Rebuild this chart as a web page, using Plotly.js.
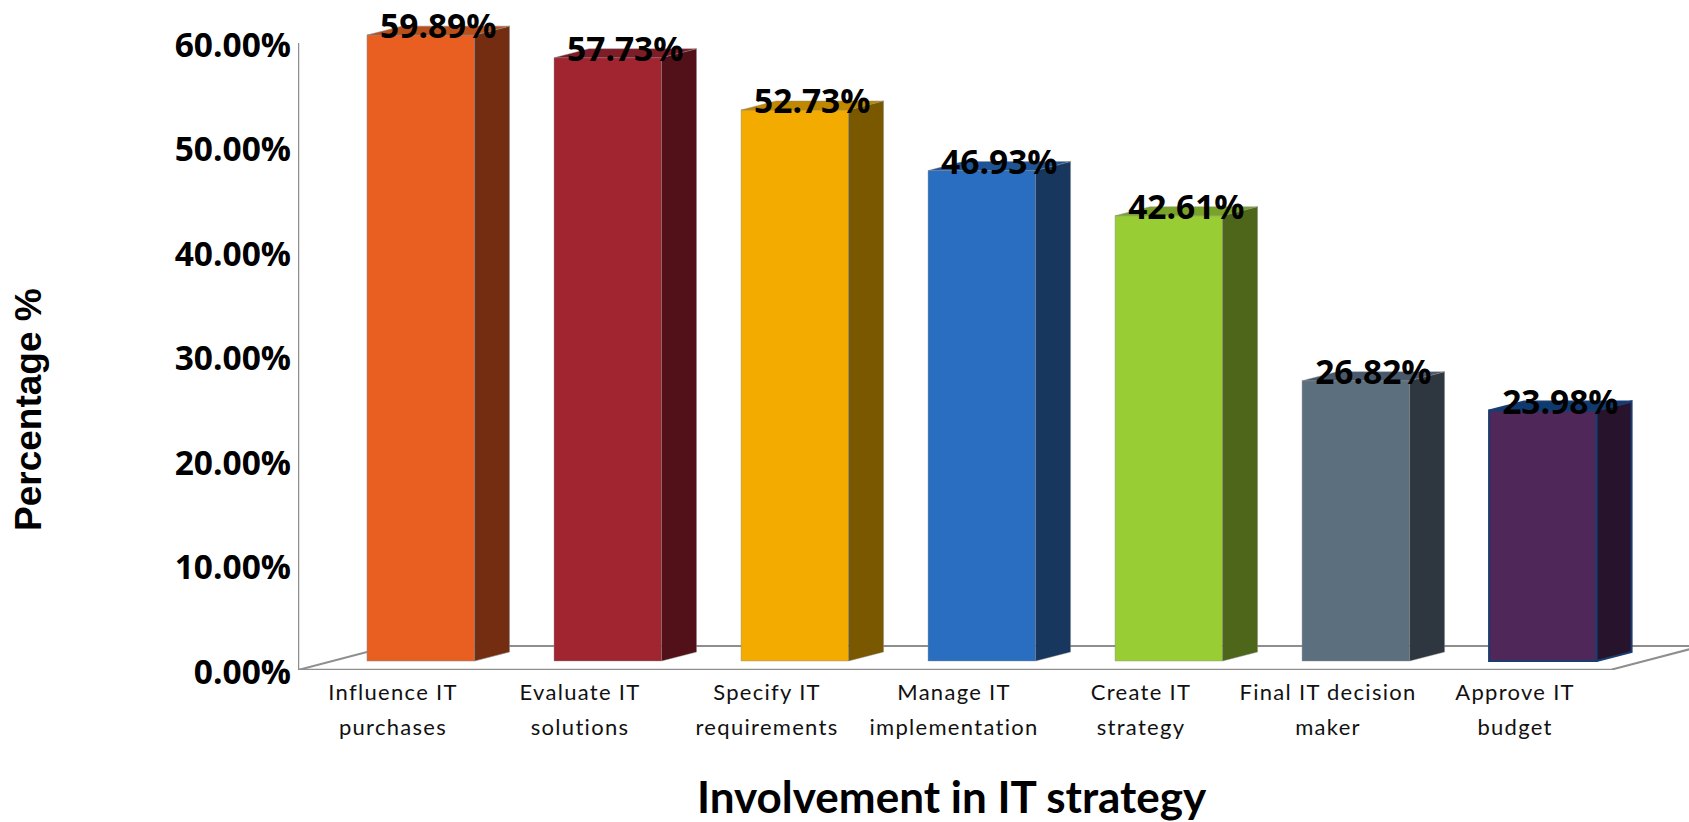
<!DOCTYPE html>
<html>
<head>
<meta charset="utf-8">
<script src="https://cdn.plot.ly/plotly-3.0.1.min.js"></script>
<style>
html,body{margin:0;padding:0;background:#fff;overflow:hidden}
.xtick text{letter-spacing:1.3px}
</style>
</head>
<body>
<div id="chart" style="width:1689px;height:822px"></div>
<script>
const labelFirst = ["Influence IT","Evaluate IT","Specify IT","Manage IT","Create IT","Final IT decision","Approve IT"];
const labelSecond = ["purchases","solutions","requirements","implementation","strategy","maker","budget"];
const values = [59.89,57.73,52.73,46.93,42.61,26.82,23.98];
const frontColors = ["#E95F22","#A02530","#F3AB00","#2A6EC1","#98CD33","#5C6F7E","#4F2759"];
const sideColors = ["#742D10","#521118","#7A5800","#17375F","#4E661A","#2E373F","#27132C"];
const topColors = ["#B9501C","#7E1D27","#C08700","#1F5496","#78A228","#49586A","#0F3A70"];
const edgeColors = ["rgba(140,140,140,.7)","rgba(140,140,140,.5)","rgba(140,140,140,.5)","rgba(140,140,140,.5)","rgba(140,140,140,.5)","rgba(140,140,140,.5)","#1A3C70"];
const edgeWidths = [0.8,0.8,0.8,0.8,0.8,0.8,2];
const yTicks = [0,10,20,30,40,50,60];

const idx = values.map((_, i) => i);
const barOffset = -0.139, barWidth = 0.575;
const depthX = 0.187, depthY = 0.86, lift = 0.86;
const floorDX = 0.492, floorDY = 2.3;
const xLeft = -0.508, xFloorRight = 6.508, xMax = 6.93, yMax = 64.11;
const labelRaise = 0.48;
const boldFont = "'Open Sans', sans-serif";

const traces = [{
  type:'bar', x:idx, y:values, base:lift, offset:barOffset, width:barWidth,
  marker:{color:frontColors, line:{color:edgeColors, width:edgeWidths}},
  hoverinfo:'skip', showlegend:false
}];
idx.forEach(i => {
  const xl = i+barOffset, xr = xl+barWidth, t = values[i]+lift;
  traces.push({type:'scatter',mode:'lines',fill:'toself',fillcolor:sideColors[i],
    x:[xr,xr+depthX,xr+depthX,xr,xr], y:[lift,lift+depthY,t+depthY,t,lift],
    line:{color:edgeColors[i],width:edgeWidths[i]},hoverinfo:'skip',showlegend:false});
  traces.push({type:'scatter',mode:'lines',fill:'toself',fillcolor:topColors[i],
    x:[xl,xr,xr+depthX,xl+depthX,xl], y:[t,t,t+depthY,t+depthY,t],
    line:{color:edgeColors[i],width:edgeWidths[i]},hoverinfo:'skip',showlegend:false});
});
traces.push({type:'scatter',mode:'text',cliponaxis:false,
  x:idx.map(i=>i+barOffset+barWidth/2+depthX/2),
  y:values.map(v=>v+lift+labelRaise),
  text:values.map(v=>v.toFixed(2)+'%'),
  textposition:'middle center',
  textfont:{family:boldFont,size:33.5,color:'#000',weight:700},
  hoverinfo:'skip',showlegend:false});

const axisLine = {color:'#8E8E8E',width:2.5};
const thin = {color:'#8E8E8E',width:2};
const line = (x0,y0,x1,y1,l) => ({type:'line',xref:'x',yref:'y',layer:'below',x0,y0,x1,y1,line:l});

const layout = {
  width:1689,height:822,
  margin:{l:298,r:0,t:0,b:152,pad:0},
  paper_bgcolor:'#fff',plot_bgcolor:'#fff',
  showlegend:false,hovermode:false,
  xaxis:{type:'linear',range:[xLeft,xMax],showgrid:false,zeroline:false,showline:false,ticks:'',
    tickmode:'array',tickvals:idx,
    ticktext:idx.map(i=>`<span style="font-size:22px">${labelFirst[i]}</span><br><span style="font-size:22px">${labelSecond[i]}</span>`),
    tickangle:0,tickfont:{family:"Lato, sans-serif",size:27,color:'#111'},ticklabelstandoff:2},
  yaxis:{range:[0,yMax],showgrid:false,zeroline:false,showline:false,ticks:'',
    tickmode:'array',tickvals:yTicks,ticktext:yTicks.map(v=>v.toFixed(2)+'%'),
    tickfont:{family:boldFont,size:33.5,color:'#000',weight:700},ticklabelstandoff:6,ticklabelshift:2},
  shapes:[
    line(xLeft,0,xLeft,60,axisLine),
    line(xLeft,0,xFloorRight,0,axisLine),
    line(xLeft,0,xLeft+floorDX,floorDY,thin),
    line(xLeft+floorDX,floorDY,xMax,floorDY,thin),
    line(xFloorRight,0,xFloorRight+floorDX,floorDY,thin)
  ]
};
layout.annotations = [
  {xref:'paper',yref:'paper',xanchor:'center',yanchor:'middle',showarrow:false,textangle:-90,
   x:(28-298)/1391,y:(670-410)/670,text:'Percentage %',
   font:{family:"'Liberation Sans', Arial, sans-serif",size:37,color:'#000',weight:700}},
  {xref:'paper',yref:'paper',xanchor:'center',yanchor:'middle',showarrow:false,
   x:(952-298)/1391,y:(670-796)/670,text:'Involvement in IT strategy',
   font:{family:"Lato, sans-serif",size:44,color:'#000',weight:700}}
];
Plotly.newPlot('chart',traces,layout,{displayModeBar:false,responsive:false});
</script>
</body>
</html>
